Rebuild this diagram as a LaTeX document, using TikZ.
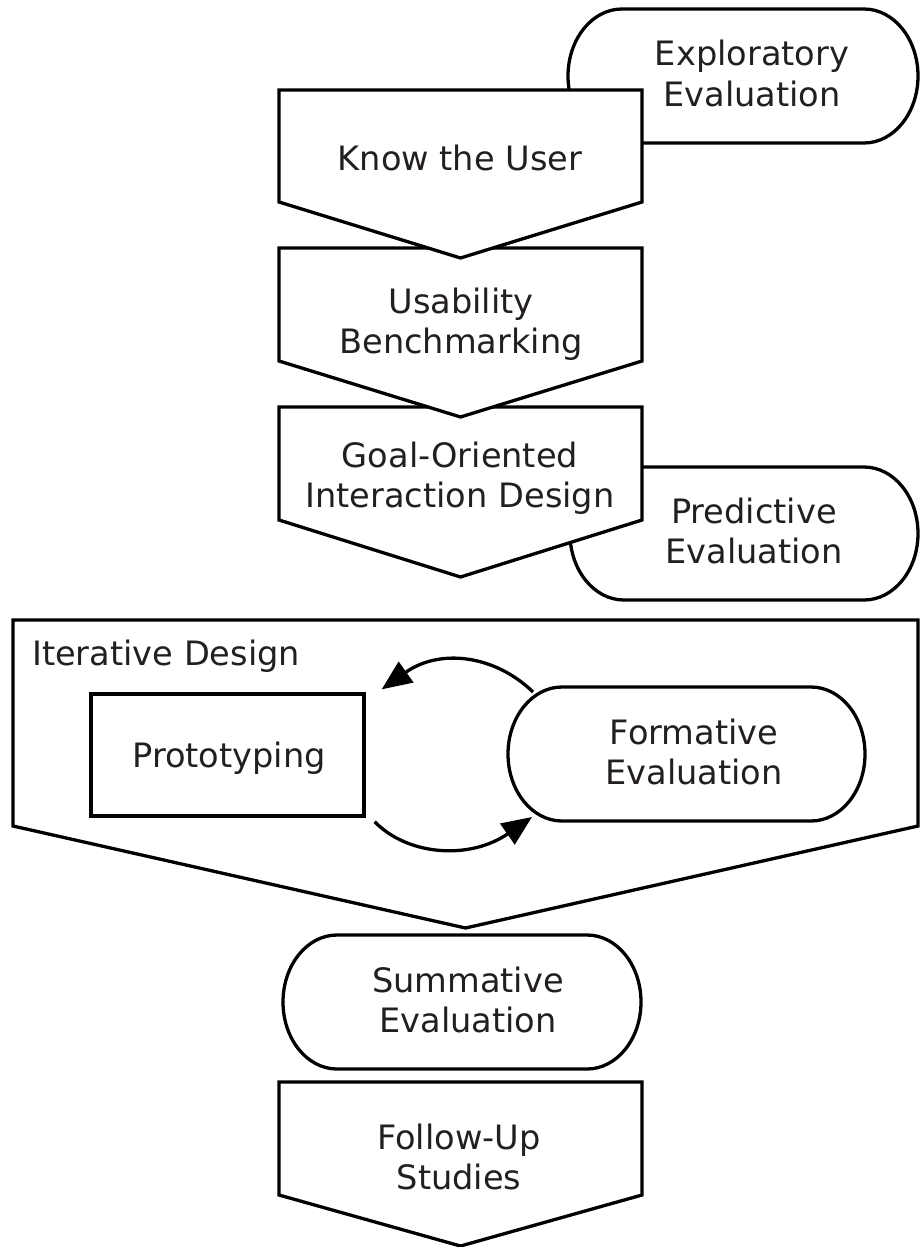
\documentclass[tikz,border=0pt]{standalone}
\usepackage{fontspec}
\setmainfont{DejaVu Sans}
\usetikzlibrary{arrows.meta,calc}
\definecolor{ink}{HTML}{231F20}
\tikzset{
  shape line/.style={draw=black, line width=3.3pt, fill=white, line join=miter},
  label text/.style={text=ink, font=\fontsize{33.6}{40}\selectfont, align=center, anchor=base, inner sep=0pt},
  frame/.style={inner sep=0pt, outer sep=0pt},
  loop arrow/.style={draw=black, line width=3.3pt, -{Triangle[length=30pt,width=25pt]}},
}
\newcommand\stadiumpath[4]{%
  \path[shape line] ({#1+54},#2) -- ({#3-54},#2)
    arc[start angle=-90,end angle=90,x radius=54,y radius={(#4-#2)/2}]
    -- ({#1+54},#4)
    arc[start angle=90,end angle=270,x radius=54,y radius={(#4-#2)/2}] -- cycle;}
\newcommand\pentpath[5]{%
  \path[shape line] (#1,#3) -- (#2,#3) -- (#2,#4) -- ({(#1+#2)/2},#5) -- (#1,#4) -- cycle;}
\begin{document}
\begin{tikzpicture}[x=1pt,y=-1pt]
\useasboundingbox (0,0) rectangle (920,1247);
% back stadiums
\stadiumpath{568}{9}{918}{143}
\stadiumpath{570}{467}{918}{600}
% top pentagons (lower first)
\pentpath{279}{642}{407}{520}{577}
\pentpath{279}{642}{248}{361}{417}
\pentpath{279}{642}{90}{202}{258}
% iterative design
\pentpath{13}{918}{620}{826}{928}
\node[draw=black, line width=3.3pt, fill=white, minimum width=273, minimum height=122, inner sep=0pt] (proto) at (227.5,755) {};
\stadiumpath{508}{687}{865}{821}
\node[frame, minimum width=357, minimum height=134] (form) at (686.5,754) {};
\draw[loop arrow] ($(form.north west)+(25,5)$) .. controls (495,655) and (440,648) .. ($(proto.north east)+(16,-3)$);
\draw[loop arrow] ($(proto.south east)+(9,4)$) .. controls (408,856) and (470,860) .. ($(form.south west)+(24,-4)$);
% bottom
\stadiumpath{283}{935}{641}{1069}
\pentpath{279}{642}{1082}{1195}{1246}
% texts (base anchor = baseline of last line)
\node[label text] (explo) at (752,106) {Exploratory\\Evaluation};
\node[label text] (know) at (460,170) {Know the User};
\node[label text] (usab) at (461,353) {Usability\\Benchmarking};
\node[label text] (goal) at (460,507) {Goal-Oriented\\Interaction Design};
\node[label text] (pred) at (754,563) {Predictive\\Evaluation};
\node[label text, anchor=base west] (iter) at (32,665) {Iterative Design};
\node[label text] (prototxt) at (229,767) {Prototyping};
\node[label text] (formtxt) at (694,784) {Formative\\Evaluation};
\node[label text] (summ) at (468,1032) {Summative\\Evaluation};
\node[label text] (follow) at (459,1189) {Follow-Up\\Studies};
\end{tikzpicture}
\end{document}
